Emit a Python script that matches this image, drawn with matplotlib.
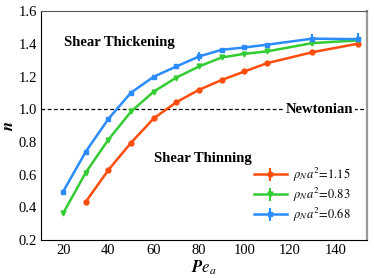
import numpy as np
import matplotlib
matplotlib.use("Agg")
import matplotlib.pyplot as plt
from matplotlib.ticker import FormatStrFormatter

plt.rcParams['font.family'] = 'serif'
plt.rcParams['font.serif'] = ['Liberation Serif', 'DejaVu Serif']
plt.rcParams['mathtext.fontset'] = 'stix'

# Data
pe_red = [30, 40, 50, 60, 70, 80, 90, 100, 110, 130, 150]
n_red = [0.434, 0.629, 0.796, 0.945, 1.044, 1.12, 1.18, 1.232, 1.283, 1.35, 1.402]
err_red = [0, 0, 0, 0, 0, 0, 0, 0, 0, 0, 0.01]

pe_green = [20, 30, 40, 50, 60, 70, 80, 90, 100, 110, 130, 150]
n_green = [0.363, 0.613, 0.815, 0.987, 1.109, 1.195, 1.263, 1.318, 1.34, 1.355, 1.406, 1.422]
err_green = [0, 0, 0, 0, 0, 0, 0, 0, 0, 0, 0.02, 0.01]

pe_blue = [20, 30, 40, 50, 60, 70, 80, 90, 100, 110, 130, 150]
n_blue = [0.496, 0.741, 0.942, 1.103, 1.2, 1.263, 1.324, 1.365, 1.379, 1.396, 1.433, 1.43]
err_blue = [0, 0, 0, 0, 0, 0, 0.025, 0, 0, 0, 0.03, 0.04]

y_ticks = [0.2, 0.4, 0.6, 0.8, 1.0, 1.2, 1.4, 1.6]
x_ticks = [20, 40, 60, 80, 100, 120, 140]
y_ticklabels = ['0.2', '0.4', '0.6', '0.8', '1.0', '1.2', '1.4', '1.6']

labels = [r'$\rho_N a^2\!=\!1.15$', r'$\rho_N a^2\!=\!0.83$', r'$\rho_N a^2\!=\!0.68$']

fig = plt.figure(figsize=(3.74, 2.78), dpi=100)
ax = fig.add_axes([0.110, 0.137, 0.871, 0.822])

ax.errorbar(pe_red, n_red, yerr=err_red, color='#ff4d0d', marker='o', ms=3.5,
            lw=1.8, elinewidth=1.5, label=labels[0])
ax.errorbar(pe_green, n_green, yerr=err_green, color='#33cc33', marker='v', ms=3.5,
            lw=1.8, elinewidth=1.5, label=labels[1])
ax.errorbar(pe_blue, n_blue, yerr=err_blue, color='#2b8cff', marker='s', ms=3.5,
            lw=1.8, elinewidth=1.5, label=labels[2])

ax.axhline(1.0, color='black', ls='--', lw=0.9, dashes=(3, 2))
ax.text(148, 1.0, 'Newtonian', ha='right', va='center', fontsize=10.5, fontweight='bold',
        bbox=dict(facecolor='white', edgecolor='none', pad=1))
ax.text(20.5, 1.41, 'Shear Thickening', fontsize=10.5, fontweight='bold', va='center')
ax.text(60, 0.70, 'Shear Thinning', fontsize=10.5, fontweight='bold', va='center')

ax.set_xlim(10.3, 154)
ax.set_ylim(0.2, 1.6)
ax.set_xticks(x_ticks)
ax.set_yticks(y_ticks)
ax.set_yticklabels(y_ticklabels)
ax.tick_params(labelsize=10.5, length=0, pad=3)

ax.set_xlabel(r'$\boldsymbol{Pe_a}$', fontsize=12, labelpad=1)
ax.set_ylabel(r'$\boldsymbol{n}$', fontsize=12)
ax.yaxis.set_label_coords(-0.075, 0.5)

ax.spines['left'].set_color('black')
ax.spines['bottom'].set_color('black')
ax.spines['top'].set_color('#555555')
ax.spines['right'].set_color('#999999')
ax.spines['right'].set_linewidth(1.6)
for s in ['left', 'bottom', 'top']:
    ax.spines[s].set_linewidth(0.8)

ax.legend(loc='lower right', frameon=False, fontsize=9, handlelength=2.6,
          labelspacing=0.15, borderaxespad=0.9, handletextpad=0.5)

fig.savefig('out.png', dpi=100)
